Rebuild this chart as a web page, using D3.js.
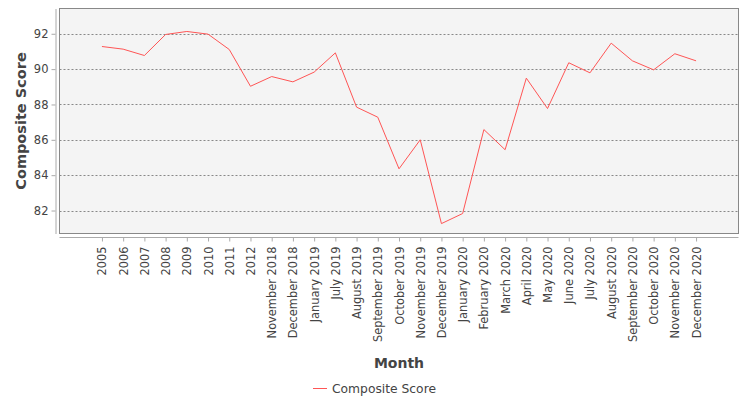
<!DOCTYPE html>
<html>
<head>
<meta charset="utf-8">
<script src="https://cdn.jsdelivr.net/npm/d3@7"></script>
<style>
  body { margin: 0; background: #fff; }
  text { font-family: "DejaVu Sans", sans-serif; }
</style>
</head>
<body>
<svg class="svgClass" width="750" height="400"></svg>
<script>
// categories along the x axis, as printed
const months = ["2005", "2006", "2007", "2008", "2009", "2010", "2011", "2012",
  "November 2018", "December 2018", "January 2019", "July 2019", "August 2019",
  "September 2019", "October 2019", "November 2019", "December 2019",
  "January 2020", "February 2020", "March 2020", "April 2020", "May 2020",
  "June 2020", "July 2020", "August 2020", "September 2020", "October 2020",
  "November 2020", "December 2020"];

// composite score
const scores = [91.28, 91.13, 90.77, 91.96, 92.13, 91.98, 91.11, 89.03,
  89.58, 89.28, 89.83, 90.92, 87.85, 87.28, 84.36, 86.0, 81.26,
  81.83, 86.58, 85.44, 89.49, 87.77, 90.36, 89.79, 91.47, 90.47, 89.96,
  90.87, 90.47];

const yTicks = [82, 84, 86, 88, 90, 92];

const plot = {left: 59.5, top: 8.5, right: 738.5, bottom: 233.5};
const seriesColor = "#ff5555";

const svg = d3.select(".svgClass");

const x = d3.scalePoint()
    .domain(months)
    .range([plot.left, plot.right])
    .padding(2);

const y = d3.scaleLinear()
    .domain([80.70, 93.43])
    .range([plot.bottom, plot.top]);

// plot background
svg.append("rect")
    .attr("x", plot.left)
    .attr("y", plot.top)
    .attr("width", plot.right - plot.left)
    .attr("height", plot.bottom - plot.top)
    .attr("fill", "#f4f4f4");

// grid lines
svg.append("g")
    .selectAll("line")
    .data(yTicks)
    .join("line")
    .attr("x1", plot.left)
    .attr("x2", plot.right)
    .attr("y1", d => Math.round(y(d)) + 0.5)
    .attr("y2", d => Math.round(y(d)) + 0.5)
    .attr("stroke", "#888")
    .attr("stroke-width", 1)
    .attr("stroke-dasharray", "2,2");

// outline
svg.append("rect")
    .attr("x", plot.left)
    .attr("y", plot.top)
    .attr("width", plot.right - plot.left)
    .attr("height", plot.bottom - plot.top)
    .attr("fill", "none")
    .attr("stroke", "#888")
    .attr("stroke-width", 1);

// y axis, sits a little left of the plot
const yAxis = d3.axisLeft(y)
    .tickValues(yTicks)
    .tickSize(4)
    .tickPadding(3)
    .tickSizeOuter(0);

const gy = svg.append("g")
    .attr("transform", "translate(55.5,0)")
    .call(yAxis);
gy.select(".domain").attr("stroke", "#aaa");
gy.selectAll(".tick line").attr("stroke", "#aaa");
gy.selectAll(".tick text")
    .attr("fill", "#444")
    .style("font-size", "11.5px")
    .style("font-family", "DejaVu Sans");

// x axis, below the plot
const xAxis = d3.axisBottom(x)
    .tickSize(4)
    .tickSizeOuter(0);

const gx = svg.append("g")
    .attr("transform", "translate(0,237.5)")
    .call(xAxis);
gx.select(".domain").attr("stroke", "#aaa")
    .attr("d", `M${plot.left},0H${plot.right}`);
gx.selectAll(".tick line").attr("stroke", "#aaa");
gx.selectAll(".tick text")
    .attr("fill", "#444")
    .style("font-size", "11.4px")
    .style("font-family", "DejaVu Sans")
    .attr("text-anchor", "end")
    .attr("transform", "rotate(-90)")
    .attr("x", -9)
    .attr("y", 0)
    .attr("dy", "0.35em");

// the series line
svg.append("path")
    .datum(scores)
    .attr("fill", "none")
    .attr("stroke", seriesColor)
    .attr("stroke-width", 1)
    .attr("d", d3.line()
        .x((d, i) => x(months[i]))
        .y(d => y(d)));

// axis titles
svg.append("text")
    .attr("transform", `translate(26,${(plot.top + plot.bottom) / 2}) rotate(-90)`)
    .attr("text-anchor", "middle")
    .attr("fill", "#444")
    .style("font-size", "14.5px")
    .style("font-weight", "bold")
    .text("Composite Score");

svg.append("text")
    .attr("x", (plot.left + plot.right) / 2)
    .attr("y", 368)
    .attr("text-anchor", "middle")
    .attr("fill", "#444")
    .style("font-size", "14px")
    .style("font-weight", "bold")
    .text("Month");

// legend
const legend = svg.append("g").attr("transform", "translate(313,388)");
legend.append("line")
    .attr("x1", 0).attr("x2", 14)
    .attr("y1", 0.5).attr("y2", 0.5)
    .attr("stroke", seriesColor)
    .attr("stroke-width", 1);
legend.append("text")
    .attr("x", 19)
    .attr("y", 4.5)
    .attr("fill", "#444")
    .style("font-size", "12.3px")
    .text("Composite Score");
</script>
</body>
</html>
